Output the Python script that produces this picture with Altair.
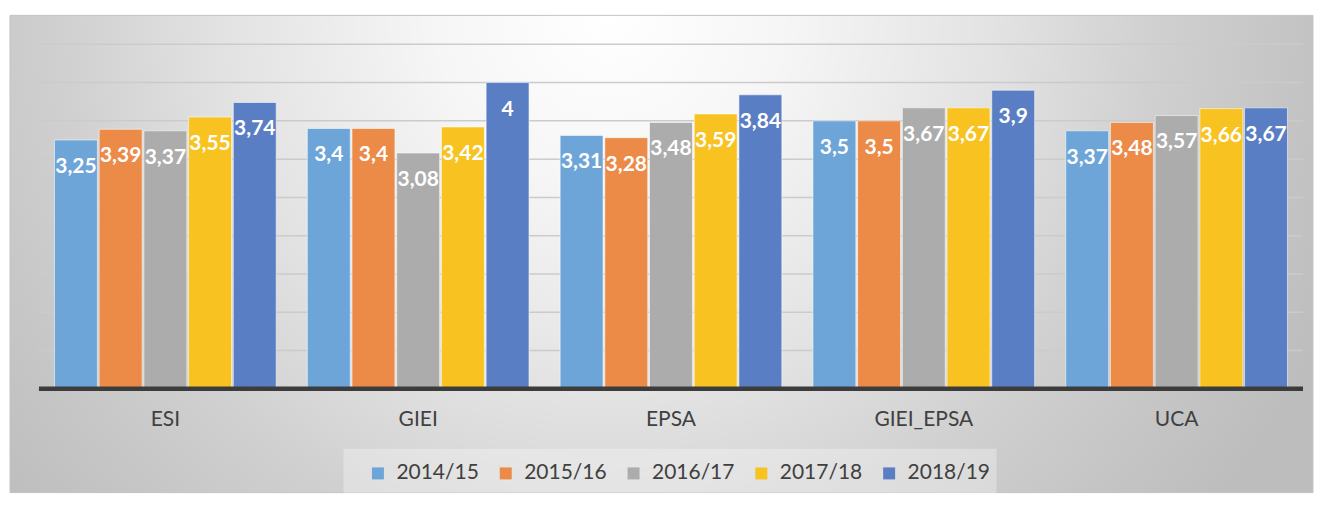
import altair as alt
import pandas as pd

categories = ["ESI", "GIEI", "EPSA", "GIEI_EPSA", "UCA"]
series = ["2014/15", "2015/16", "2016/17", "2017/18", "2018/19"]
v_2014_15 = [3.25, 3.4, 3.31, 3.5, 3.37]
v_2015_16 = [3.39, 3.4, 3.28, 3.5, 3.48]
v_2016_17 = [3.37, 3.08, 3.48, 3.67, 3.57]
v_2017_18 = [3.55, 3.42, 3.59, 3.67, 3.66]
v_2018_19 = [3.74, 4, 3.84, 3.9, 3.67]
colors = ["#6DA5D8", "#EC8A48", "#ACACAC", "#F8C320", "#5A7EC3"]
grid_values = [0.5, 1.0, 1.5, 2.0, 2.5, 3.0, 3.5, 4.0, 4.5]

all_values = [v_2014_15, v_2015_16, v_2016_17, v_2017_18, v_2018_19]
rows = []
for s, vals in zip(series, all_values):
    for c, v in zip(categories, vals):
        rows.append({"cat": c, "series": s, "value": v,
                     "label": format(v, "g").replace(".", ",")})
df = pd.DataFrame(rows)

W, H = 1266, 345
FONT = "Lato"

yscale = alt.Scale(domain=[0, 4.5], nice=False, zero=True)

bg = alt.Chart(pd.DataFrame({"a": [0]})).mark_rect(
    fill=alt.RadialGradient(
        gradient="radial",
        x1=0.46, y1=0.315, r1=0.0,
        x2=0.46, y2=0.315, r2=0.6,
        stops=[
            alt.GradientStop(color="#ffffff", offset=0.0),
            alt.GradientStop(color="#f6f6f6", offset=0.22),
            alt.GradientStop(color="#e2e2e2", offset=0.5),
            alt.GradientStop(color="#d0d0d0", offset=0.7),
            alt.GradientStop(color="#c6c6c6", offset=0.85),
            alt.GradientStop(color="#bdbdbd", offset=1.0),
        ],
    ),
    stroke="#c4c4c4", strokeWidth=1,
).encode(
    x=alt.value(-29), x2=alt.value(1276), y=alt.value(-29), y2=alt.value(449)
)

legend_box = alt.Chart(pd.DataFrame({"a": [0]})).mark_rect(
    fill="#ffffff", fillOpacity=0.3
).encode(
    x=alt.value(305), x2=alt.value(959), y=alt.value(405), y2=alt.value(450)
)

grid = alt.Chart(pd.DataFrame({"g": grid_values})).mark_rule(
    color="#cbcbcb", strokeWidth=1.5
).encode(y=alt.Y("g:Q", scale=yscale, axis=None))

xenc = alt.X(
    "cat:N", sort=categories,
    scale=alt.Scale(paddingInner=0.123, paddingOuter=0.0615),
    axis=alt.Axis(title=None, labelAngle=0, domain=False, ticks=False,
                  labelFontSize=21, labelColor="#404040", labelFont=FONT,
                  labelFontWeight="normal", labelPadding=20, grid=False,
                  zindex=1),
)
xoff = alt.XOffset("series:N", sort=series, scale=alt.Scale(paddingInner=0.04))

bars = alt.Chart(df).mark_bar(
    stroke="white", strokeOpacity=0.55, strokeWidth=1
).encode(
    x=xenc,
    xOffset=xoff,
    y=alt.Y("value:Q", scale=yscale, axis=None, stack=None),
    color=alt.Color(
        "series:N", sort=series,
        scale=alt.Scale(domain=series, range=colors),
        legend=alt.Legend(
            title=None, orient="none", legendX=317, legendY=407,
            direction="horizontal", symbolType="square", symbolSize=144,
            symbolStrokeWidth=0, labelFontSize=21, labelFont=FONT,
            labelFontWeight="normal", labelColor="#404040",
            columnPadding=16, labelOffset=8, padding=12,
        ),
    ),
)

labels = alt.Chart(df).mark_text(
    font=FONT, fontWeight="bold", fontSize=21, color="white",
    baseline="middle", dy=27,
).encode(
    x=xenc,
    xOffset=xoff,
    y=alt.Y("value:Q", scale=yscale, axis=None, stack=None),
    text="label:N",
)

base = alt.Chart(pd.DataFrame({"z": [0]})).mark_rule(
    color="#3c3c3c", strokeWidth=4.5
).encode(y=alt.Y("z:Q", scale=yscale, axis=None))

chart = alt.layer(bg, legend_box, grid, bars, labels, base).properties(
    width=W, height=H, padding={"left": 1, "top": 6, "right": 0, "bottom": 0}
).configure_view(stroke=None).configure(background="white")

chart.save("out.html", embed_options={"renderer": "svg", "actions": False})
